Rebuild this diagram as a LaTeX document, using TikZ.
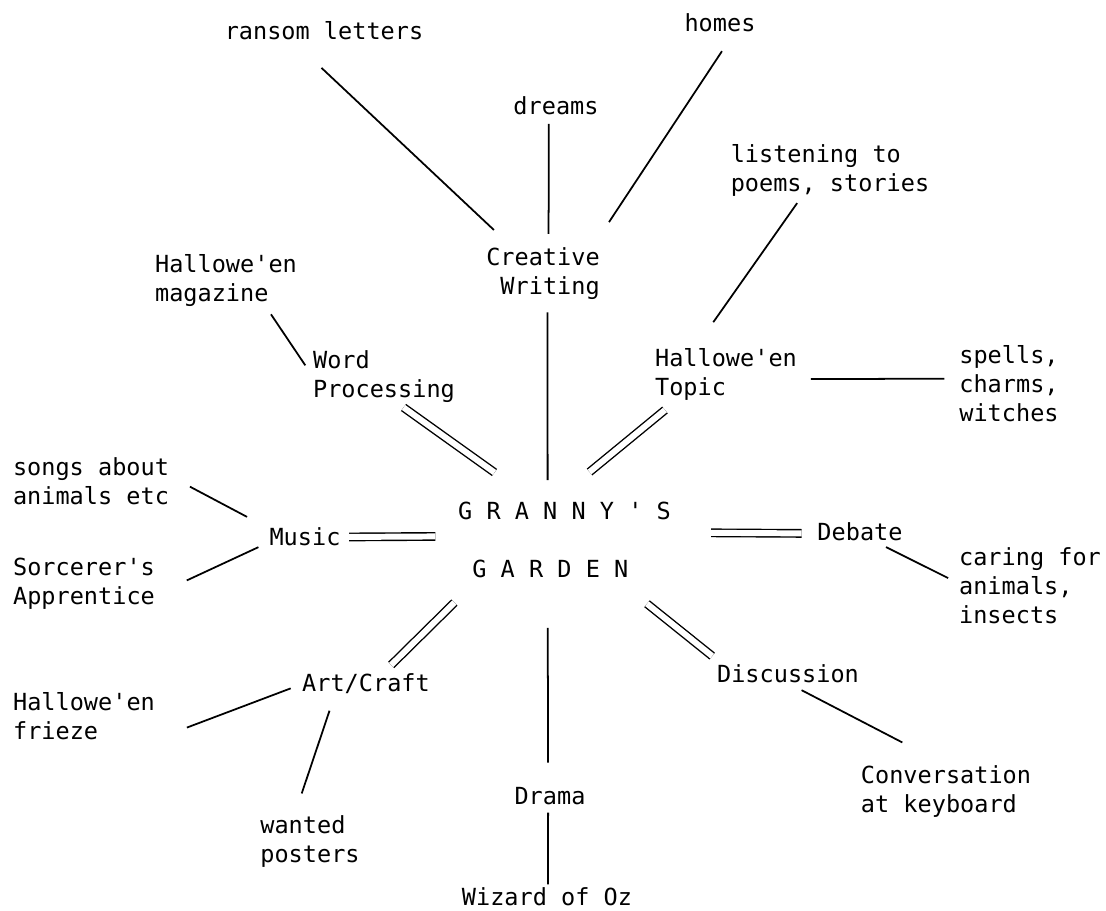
\documentclass[tikz,border=0pt]{standalone}
\usepackage{fontspec}
\setmonofont{DejaVu Sans Mono}

\begin{document}
\begin{tikzpicture}[x=0.02cm,y=-0.02cm,
        item/.style={inner sep=0pt,outer sep=0pt,align=left,font=\ttfamily\fontsize{13.4}{16.5}\selectfont},
        link/.style={line width=1pt},
        dbl/.style={double,double distance=3.4pt,line width=0.8pt}]
        \useasboundingbox (0,0) rectangle (1106,910);

        \node[item] (ransom) at (324,31)   {ransom letters};
        \node[item] (homes)  at (720,23)   {homes};
        \node[item] (dreams) at (556,106)  {dreams};
        \node[item] (listen) at (830,170)  {listening to\\poems, stories};
        \node[item,align=right] (cw) at (543,274) {Creative\\Writing};
        \node[item] (mag)    at (226,281)  {Hallowe'en\\magazine};
        \node[item] (wp)     at (384,377)  {Word\\Processing};
        \node[item] (topic)  at (726,374)  {Hallowe'en\\Topic};
        \node[item] (spells) at (1009,384) {spells,\\charms,\\witches};
        \node[item] (songs)  at (91,481)   {songs about\\animals etc};
        \node[item] (music)  at (305,537)  {Music};
        \node[item,font=\ttfamily\fontsize{13.4}{33}\selectfont] (gg) at (564.5,540) {G R A N N Y ' S\\\phantom{G}G A R D E N};
        \node[item] (debate) at (860,532)  {Debate};
        \node[item] (sorc)   at (84,584)   {Sorcerer's\\Apprentice};
        \node[item] (caring) at (1030,586) {caring for\\animals,\\insects};
        \node[item] (art)    at (366,684)  {Art/Craft};
        \node[item] (disc)   at (788,674)  {Discussion};
        \node[item] (frieze) at (84,716)   {Hallowe'en\\frieze};
        \node[item] (conv)   at (946,791)  {Conversation\\at keyboard};
        \node[item] (drama)  at (550,796)  {Drama};
        \node[item] (wanted) at (310,841)  {wanted\\posters};
        \node[item] (wizard) at (547,897)  {Wizard of Oz};

	\path[-] (ransom.-164) edge[link,shorten <=23pt,shorten >=15pt] (cw.139);
	\path[-] (dreams.-128) edge[link,shorten <=5pt,shorten >=8pt] (cw.78);
	\path[-] (homes.-32) edge[link,shorten <=13pt,shorten >=17.7pt] (cw.28);
	\path[-] (listen.-137) edge[link,shorten <=5pt,shorten >=18pt] (topic.140);
	\path[-] (cw.-80) edge[link,shorten <=7pt,shorten >=12.5pt] (gg.114);
	\path[-] (mag.-33) edge[link,shorten <=5pt,shorten >=8pt] (wp.west);
	\path[-] (wp.-63) edge[dbl,shorten <=4.4pt,shorten >=29pt] (gg.127);
	\path[-] (topic.-152) edge[dbl,shorten <=9pt,shorten >=27pt] (gg.107);
	\path[-] (topic.-4) edge[link,shorten <=8pt,shorten >=8.5pt] (spells.174);
	\path[-] (songs.4) edge[link,shorten <=13.5pt,shorten >=14.5pt] (music.167);
	\path[-] (sorc.-9) edge[link,shorten <=20pt,shorten >=7pt] (music.-172);
	\path[-] (music.east) edge[dbl,shorten <=5pt,shorten >=13pt] (gg.178);
	\path[-] (gg.4) edge[dbl,shorten <=23pt,shorten >=9pt] (debate.-178);
	\path[-] (debate.-33) edge[link,shorten <=7.6pt,shorten >=7pt] (caring.178);
	\path[-] (gg.-156) edge[dbl,shorten <=20pt,shorten >=7.3pt] (art.32);
	\path[-] (gg.-114) edge[link,shorten <=28.5pt,shorten >=14pt] (drama.102);
	\path[-] (gg.-37) edge[dbl,shorten <=23.5pt,shorten >=8pt] (disc.172);
	\path[-] (art.west) edge[link,shorten <=7pt,shorten >=19.5pt] (frieze.south east);
	\path[-] (art.-162) edge[link,shorten <=10pt,shorten >=13pt] (wanted.121);
	\path[-] (disc.south) edge[link,shorten <=8.7pt,shorten >=28pt] (conv.north);
	\path[-] (drama.-102) edge[link,shorten <=4.5pt,shorten >=2pt] (wizard.84);
\end{tikzpicture}
\end{document}
